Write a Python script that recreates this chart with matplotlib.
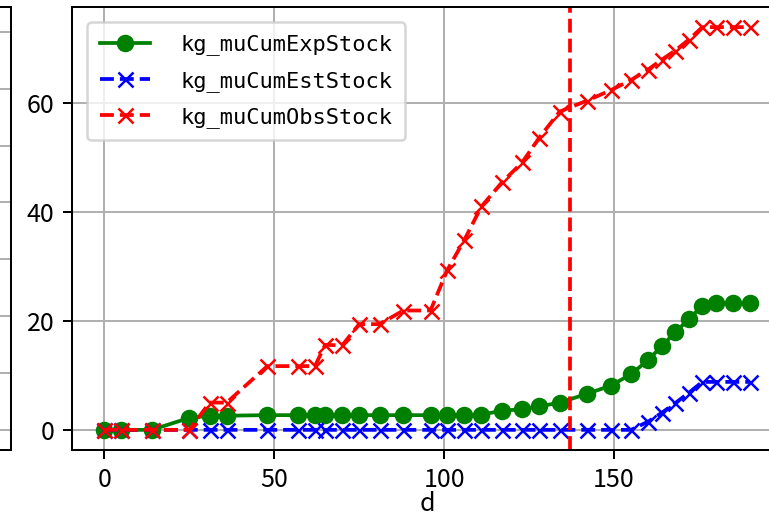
import numpy as np
import matplotlib
matplotlib.use('Agg')
import matplotlib.pyplot as plt

plt.rcParams['font.family'] = ['Noto Sans CJK JP', 'DejaVu Sans']

# dados
d = [0, 5, 14, 25, 31, 36, 48, 57, 62, 65, 70, 75, 81, 88, 96, 101, 106,
     111, 117, 123, 128, 134, 142, 149, 155, 160, 164, 168, 172, 176, 180, 185, 190]

exp_stock = [0, 0, 0, 2.2, 2.6, 2.6, 2.7, 2.7, 2.7, 2.7, 2.7, 2.7, 2.7, 2.7, 2.7, 2.7, 2.7,
             2.8, 3.5, 3.8, 4.3, 5.0, 6.6, 8.1, 10.2, 12.8, 15.3, 17.9, 20.3, 22.8, 23.2, 23.2, 23.2]

est_stock = [0, 0, 0, 0, 0, 0, 0, 0, 0, 0, 0, 0, 0, 0, 0, 0, 0,
             0, 0, 0, 0, 0, 0, 0, 0, 1.5, 3.1, 4.9, 6.8, 8.8, 8.8, 8.8, 8.8]

obs_stock = [0, 0, 0, 0, 5.0, 5.0, 11.7, 11.7, 11.7, 15.6, 15.5, 19.4, 19.4, 21.9, 21.9, 29.4, 34.9,
             41.0, 45.4, 49.1, 53.6, 58.4, 60.4, 62.3, 64.2, 66.1, 67.9, 69.6, 71.6, 73.9, 73.9, 73.9, 73.9]

labels = ['kg_muCumExpStock', 'kg_muCumEstStock', 'kg_muCumObsStock']
corte = 137

fig = plt.figure(figsize=(769 / 180, 520 / 180), dpi=180)

# pedaco do painel da esquerda (cortado)
ax0 = fig.add_axes([-0.5, 0.13462, 0.5143, 0.85192])
ax0.set_ylim(-0.351, 7.434)
ax0.set_yticks(range(8))
ax0.set_yticklabels([])
ax0.set_xticks([])
ax0.grid(True, axis='y')

# painel principal
ax = fig.add_axes([0.09363, 0.13462, 0.92354, 0.85192])
ax.plot(d, exp_stock, color='green', marker='o', linestyle='-', label=labels[0])
ax.plot(d, est_stock, color='blue', marker='x', linestyle='--', label=labels[1])
ax.plot(d, obs_stock, color='red', marker='x', linestyle='--', label=labels[2])
ax.axvline(corte, color='red', linestyle='--')

ax.set_xlabel('d', labelpad=-1)
ax.set_xticks([0, 50, 100, 150])
ax.set_yticks([0, 20, 40, 60])
ax.grid(True)
ax.legend(loc='upper left', prop={'family': 'DejaVu Sans Mono', 'size': 8.8},
          handlelength=2.3, handletextpad=1.4, labelspacing=0.7,
          borderpad=0.55, borderaxespad=0.7)

fig.savefig('out.png', dpi=180)
